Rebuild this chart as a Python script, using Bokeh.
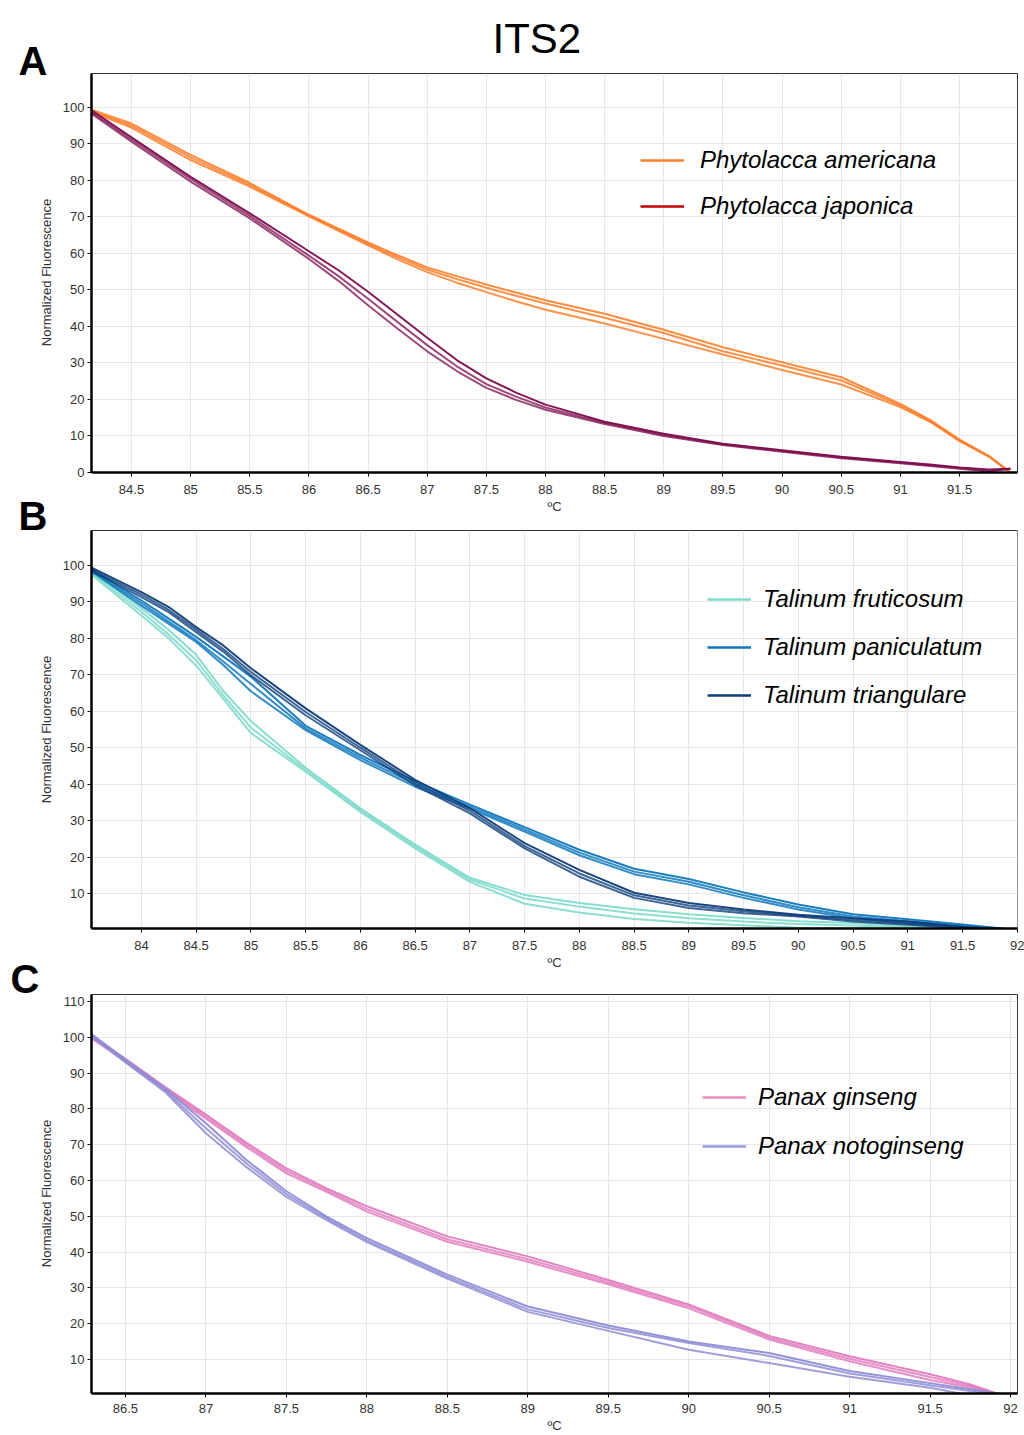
import math
from bokeh.plotting import figure
from bokeh.models import (Range1d, FixedTicker, NumeralTickFormatter, Legend, LegendItem,
                          Label, Title)
from bokeh.layouts import column, row
from bokeh.embed import file_html
from bokeh.resources import INLINE

FONT = "Liberation Sans"

# ---------------- Panel A : Phytolacca ----------------
xA = [84.15, 84.5, 85.0, 85.5, 86.0, 86.25, 86.5, 86.75, 87.0, 87.25, 87.5, 87.75, 88.0, 88.5,
      89.0, 89.5, 90.0, 90.5, 91.0, 91.25, 91.5, 91.75, 91.93]
americana_1 = [99.5, 95.6, 87.0, 79.3, 70.6, 66.8, 63.0, 59.5, 56.2, 53.8, 51.5, 49.3, 47.2, 43.5,
               39.1, 34.3, 30.2, 26.1, 18.8, 14.4, 9.0, 4.5, 0.0]
americana_2 = [99.2, 95.0, 86.3, 78.8, 70.4, 66.5, 62.6, 59.0, 55.6, 53.0, 50.6, 48.4, 46.3, 42.4,
               38.2, 33.2, 29.3, 25.2, 18.4, 14.2, 8.8, 4.4, 0.0]
americana_3 = [98.9, 94.5, 85.6, 78.3, 70.2, 66.2, 62.2, 58.4, 54.9, 52.0, 49.4, 46.9, 44.6, 40.8,
               36.6, 32.3, 28.1, 24.1, 17.9, 13.9, 8.6, 4.3, 0.0]
japonica_1 = [99.5, 91.8, 81.0, 71.0, 60.6, 55.4, 49.5, 43.2, 36.9, 30.8, 25.8, 21.9, 18.6, 13.9,
              10.6, 7.9, 6.1, 4.3, 2.9, 2.2, 1.4, 0.8, 1.0]
japonica_2 = [99.0, 91.2, 80.4, 70.3, 59.4, 53.8, 47.6, 41.2, 34.9, 29.1, 24.2, 20.8, 17.8, 13.6,
              10.3, 7.7, 5.9, 4.1, 2.7, 2.0, 1.2, 0.5, 1.0]
japonica_3 = [98.6, 90.6, 79.7, 69.6, 58.5, 52.5, 45.8, 39.4, 33.2, 27.8, 23.2, 19.9, 17.2, 13.3,
              10.0, 7.5, 5.7, 3.9, 2.5, 1.8, 1.0, 0.3, 1.0]

# ---------------- Panel B : Talinum ----------------
xB = [83.54, 84.0, 84.25, 84.5, 84.75, 85.0, 85.5, 86.0, 86.5, 87.0, 87.5, 88.0, 88.5, 89.0, 89.5,
      90.0, 90.5, 91.0, 91.5, 92.0]
fruticosum_1 = [98.5, 88.3, 82.3, 75.5, 65.5, 57.3, 44.5, 33.4, 23.4, 14.3, 9.6, 7.4, 5.7, 4.3, 3.3,
                2.4, 1.9, 1.0, 0.5, 0.0]
fruticosum_2 = [98.0, 87.3, 81.0, 74.0, 64.3, 55.5, 43.9, 32.9, 22.9, 13.8, 8.6, 6.4, 4.5, 3.2, 2.3,
                1.6, 1.2, 0.7, 0.4, 0.0]
fruticosum_3 = [97.6, 86.3, 80.0, 72.5, 63.3, 54.0, 43.4, 32.4, 22.4, 13.2, 7.2, 4.8, 3.0, 2.0, 1.3,
                0.6, 0.5, 0.3, 0.2, 0.0]
paniculatum_1 = [99.0, 90.4, 85.4, 80.4, 75.0, 69.5, 56.0, 48.0, 40.8, 34.4, 28.2, 22.0, 16.8, 14.0,
                 10.3, 7.0, 4.3, 2.9, 1.5, 0.0]
paniculatum_2 = [98.7, 89.7, 84.6, 79.5, 73.6, 67.5, 55.3, 47.3, 40.0, 33.8, 27.6, 21.2, 16.0, 13.2,
                 9.5, 6.2, 3.7, 2.4, 1.2, 0.0]
paniculatum_3 = [98.4, 89.0, 84.0, 79.0, 72.6, 65.5, 54.8, 46.6, 39.3, 33.3, 27.0, 20.5, 15.3, 12.5,
                 8.8, 5.6, 3.2, 1.9, 0.9, 0.0]
triangulare_1 = [99.5, 92.7, 88.6, 83.1, 78.0, 71.8, 60.8, 50.8, 41.2, 33.4, 23.8, 16.5, 10.2, 7.4,
                 5.6, 4.2, 3.2, 2.3, 0.9, 0.0]
triangulare_2 = [99.0, 92.0, 87.8, 82.4, 77.0, 70.8, 59.8, 50.0, 40.4, 32.7, 23.0, 15.5, 9.5, 6.7,
                 5.1, 3.9, 2.7, 1.8, 0.7, 0.0]
triangulare_3 = [98.6, 91.3, 87.2, 81.7, 76.3, 69.9, 58.9, 49.3, 39.7, 32.0, 22.4, 14.6, 8.8, 6.0,
                 4.6, 3.7, 2.3, 1.4, 0.5, 0.0]

# ---------------- Panel C : Panax ----------------
xC = [86.28, 86.5, 86.75, 87.0, 87.25, 87.5, 87.75, 88.0, 88.5, 89.0, 89.5, 90.0, 90.5, 91.0, 91.5,
      91.75, 91.95]
ginseng_1 = [100.7, 94.0, 86.0, 78.4, 70.6, 63.4, 57.8, 52.8, 44.4, 38.8, 32.2, 25.4, 16.6, 10.9, 5.9,
             3.0, 0.0]
ginseng_2 = [100.3, 93.6, 85.6, 77.8, 70.0, 62.7, 57.3, 52.0, 43.6, 38.0, 31.6, 24.9, 16.1, 10.2, 5.1,
             2.6, 0.0]
ginseng_3 = [100.0, 93.3, 85.2, 77.3, 69.4, 62.0, 56.8, 51.3, 42.9, 37.3, 31.0, 24.3, 15.6, 9.5, 4.3,
             2.2, 0.0]
notoginseng_1 = [101.2, 93.8, 85.6, 76.0, 65.8, 57.0, 49.9, 43.9, 33.7, 24.8, 19.5, 15.0, 11.8, 6.8,
                 3.4, 1.7, 0.3]
notoginseng_2 = [100.9, 93.4, 85.0, 74.6, 64.8, 56.2, 49.4, 43.3, 33.1, 24.0, 18.8, 14.6, 11.0, 6.1,
                 2.8, 1.2, 0.3]
notoginseng_3 = [100.6, 93.0, 84.6, 73.2, 63.8, 55.4, 48.9, 42.8, 32.6, 23.3, 18.0, 12.7, 9.0, 5.2,
                 2.1, 0.0, 0.0]

ticksA_x = [84.5, 85, 85.5, 86, 86.5, 87, 87.5, 88, 88.5, 89, 89.5, 90, 90.5, 91, 91.5]
ticksB_x = [84, 84.5, 85, 85.5, 86, 86.5, 87, 87.5, 88, 88.5, 89, 89.5, 90, 90.5, 91, 91.5, 92]
ticksC_x = [86.5, 87, 87.5, 88, 88.5, 89, 89.5, 90, 90.5, 91, 91.5, 92]
ticksA_y = [0, 10, 20, 30, 40, 50, 60, 70, 80, 90, 100]
ticksB_y = [10, 20, 30, 40, 50, 60, 70, 80, 90, 100]
ticksC_y = [10, 20, 30, 40, 50, 60, 70, 80, 90, 100, 110]

Y_LABEL = "Normalized Fluorescence"
X_LABEL = "ºC"
PAGE_H = 1435
STRIP_W = 58
MAIN_W = 1024 - STRIP_W


def make_fig(height, borders, xr, yr, xt, yt, ystand, xstand):
    left, right, top, bottom = borders
    p = figure(width=MAIN_W, height=height, output_backend="svg", toolbar_location=None,
               x_range=Range1d(*xr), y_range=Range1d(*yr),
               min_border_left=left, min_border_right=right,
               min_border_top=top, min_border_bottom=bottom)
    p.outline_line_color = "#333333"
    p.outline_line_width = 1
    for ax, ticks in ((p.xaxis, xt), (p.yaxis, yt)):
        ax.ticker = FixedTicker(ticks=ticks)
        ax.formatter = NumeralTickFormatter(format="0.[0]")
        ax.axis_line_color = "black"
        ax.axis_line_width = 2.5
        ax.major_tick_line_color = "black"
        ax.major_tick_out = 4
        ax.major_tick_in = 0
        ax.minor_tick_line_color = None
        ax.major_label_text_font = FONT
        ax.major_label_text_font_size = "13px"
        ax.major_label_text_color = "#333333"
        ax.axis_label_text_font = FONT
        ax.axis_label_text_font_size = "13px"
        ax.axis_label_text_font_style = "normal"
        ax.axis_label_text_color = "#333333"
    p.yaxis.major_label_standoff = ystand
    p.xaxis.major_label_standoff = xstand
    p.xaxis.axis_label = X_LABEL
    p.xaxis.axis_label_standoff = 2
    p.xgrid.ticker = FixedTicker(ticks=xt)
    p.ygrid.ticker = FixedTicker(ticks=yt)
    p.xgrid.grid_line_color = "#E6E6E6"
    p.ygrid.grid_line_color = "#E6E6E6"
    return p


def add_series(p, x, reps, color, alphas):
    for ys, a in zip(reps, alphas):
        p.line(x, ys, line_color=color, line_width=2, line_alpha=a)


def add_legend(p, entries, loc, spacing, standoff):
    items = []
    for name, col in entries:
        r = p.line([float("nan")], [float("nan")], line_color=col, line_width=2.5)
        items.append(LegendItem(label=name, renderers=[r]))
    leg = Legend(items=items, location=loc, spacing=spacing, padding=0, margin=0,
                 glyph_width=44, glyph_height=28, label_height=28, label_standoff=standoff,
                 label_text_font=FONT, label_text_font_size="24px",
                 label_text_font_style="italic", label_text_color="black",
                 border_line_color=None, background_fill_alpha=0)
    p.add_layout(leg)


# ---------- figure A ----------
pA = make_fig(529, (33, 7, 73, 57), (84.162, 91.99), (0, 109.3), ticksA_x, ticksA_y, 3, 8)
add_series(pA, xA, [americana_1, americana_2, americana_3], "#FF7F2A", [0.9, 0.85, 0.85])
add_series(pA, xA, [japonica_1, japonica_2, japonica_3], "#7D0C4E", [0.95, 0.75, 0.75])
add_legend(pA, [("Phytolacca americana", "#FF7F27"), ("Phytolacca japonica", "#C00000")],
           (549, 252), 18, 16)
pA.add_layout(Title(text="ITS2", align="left", offset=401, standoff=24,
                    text_font=FONT, text_font_size="42px", text_font_style="normal",
                    text_color="black"), "above")

# ---------- figure B ----------
pB = make_fig(463, (33, 6, 1, 64), (83.544, 92.002), (0.395, 109.6), ticksB_x, ticksB_y, 3, 8)
add_series(pB, xB, [fruticosum_1, fruticosum_2, fruticosum_3], "#7FDCCB", [0.95, 0.9, 0.9])
add_series(pB, xB, [paniculatum_1, paniculatum_2, paniculatum_3], "#0E78BE", [0.95, 0.85, 0.85])
add_series(pB, xB, [triangulare_1, triangulare_2, triangulare_3], "#0D3E7A", [0.95, 0.8, 0.8])
add_legend(pB, [("Talinum fruticosum", "#7FDCCB"), ("Talinum paniculatum", "#0E78BE"),
                ("Talinum triangulare", "#0D3E7A")], (616, 219), 20, 12)

# ---------- figure C ----------
pC = make_fig(443, (33, 6, 2, 42), (86.289, 92.043), (0.503, 111.96), ticksC_x, ticksC_y, 3, 6)
add_series(pC, xC, [ginseng_1, ginseng_2, ginseng_3], "#E27BBE", [0.95, 0.85, 0.85])
add_series(pC, xC, [notoginseng_1, notoginseng_2, notoginseng_3], "#8E8CD6", [0.95, 0.85, 0.85])
add_legend(pC, [("Panax ginseng", "#F08CC4"), ("Panax notoginseng", "#9C9BE6")],
           (611, 233), 21, 12)

# ---------- left strip: panel letters and y-axis titles ----------
strip = figure(width=STRIP_W, height=PAGE_H, output_backend="svg", toolbar_location=None,
               x_axis_type=None, y_axis_type=None, min_border=0,
               x_range=Range1d(0, STRIP_W), y_range=Range1d(0, PAGE_H))
strip.outline_line_color = None
strip.grid.visible = False
for txt, xl, yc in (("A", 18, 60), ("B", 18, 515), ("C", 10, 978)):
    strip.add_layout(Label(x=xl, y=PAGE_H - yc, x_units="screen", y_units="screen", text=txt,
                           text_font=FONT, text_font_size="40px", text_font_style="bold",
                           text_color="black", text_align="left", text_baseline="middle"))
for yc in (272, 729, 1193):
    strip.add_layout(Label(x=46, y=PAGE_H - yc, x_units="screen", y_units="screen", text=Y_LABEL,
                           angle=math.pi / 2, text_font=FONT, text_font_size="13px",
                           text_color="#333333", text_align="center", text_baseline="middle"))

layout = row(strip, column(pA, pB, pC, spacing=0), spacing=0)
open("out.html", "w").write(file_html(layout, INLINE))
